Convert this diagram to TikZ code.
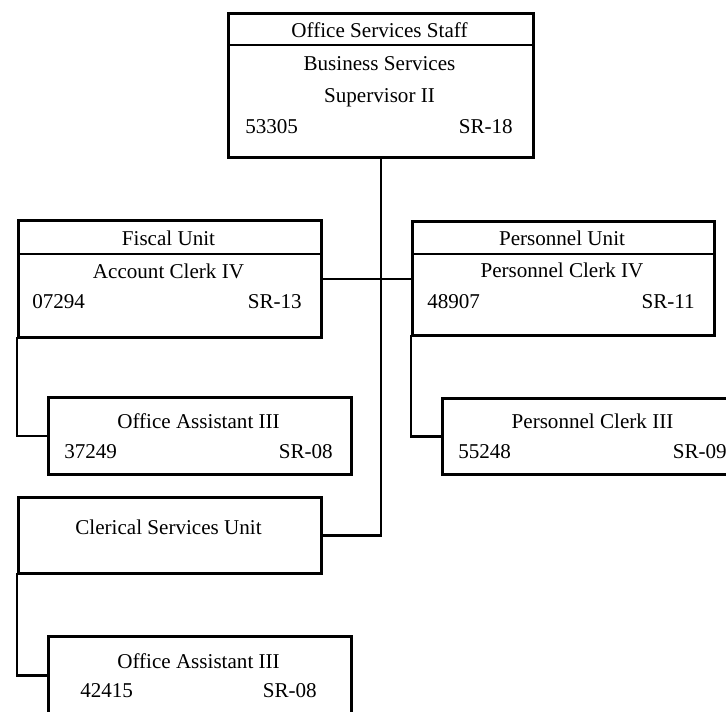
\documentclass[tikz,border=0pt]{standalone}
\usepackage{fontspec}
\setmainfont{Liberation Serif}
\usetikzlibrary{calc, positioning}
\newcommand{\pxu}{0.025cm}

\begin{document}
\begin{tikzpicture}[x=\pxu, y=-\pxu,
        box/.style={rectangle, draw, line width=2.8*\pxu, anchor=north west, inner sep=0pt, minimum width=303*\pxu},
        conn/.style={line width=2.8*\pxu, line cap=rect},
        divider/.style={line width=2.8*\pxu},
        txt/.style={inner sep=0pt, font=\fontsize{15pt}{18pt}\selectfont}]
        \useasboundingbox (0,0) rectangle (726,712);
        \clip (0,0) rectangle (726,712);

        % boxes
        \node (staff) [box, minimum width=305*\pxu, minimum height=144*\pxu] at (227,12) {};
        \node (fiscal) [box, minimum height=117*\pxu] at (17,219) {};
        \node (personnel) [box, minimum width=302*\pxu, minimum height=114*\pxu] at (411,220) {};
        \node (oaFiscal) [box, minimum height=77*\pxu] at (47,396) {};
        \node (clerkPers) [box, minimum height=76*\pxu] at (441,397) {};
        \node (clerical) [box, minimum height=76*\pxu] at (17,496) {};
        \node (oaClerical) [box, minimum height=78*\pxu] at (47,635) {};

        % header lines
        \draw[divider] ($(staff.north west)+(0,33)$) -- ($(staff.north east)+(0,33)$);
        \draw[divider] ($(fiscal.north west)+(0,35)$) -- ($(fiscal.north east)+(0,35)$);
        \draw[divider] ($(personnel.north west)+(0,34)$) -- ($(personnel.north east)+(0,34)$);

        % texts
        \node (staffHead) [txt, anchor=base] at (379.5,37) {Office Services Staff};
        \node (staffT1) [txt, anchor=base] at (379.5,70) {Business Services};
        \node (staffT2) [txt, anchor=base] at (379.5,102) {Supervisor II};
        \node (staffNo) [txt, anchor=base west] at (245,133) {53305};
        \node (staffSR) [txt, anchor=base east] at (513,133) {SR-18};

        \node (fiscalHead) [txt, anchor=base] at (168.5,245) {Fiscal Unit};
        \node (fiscalT) [txt, anchor=base] at (168.5,278) {Account Clerk IV};
        \node (fiscalNo) [txt, anchor=base west] at (32,308) {07294};
        \node (fiscalSR) [txt, anchor=base east] at (302,308) {SR-13};

        \node (persHead) [txt, anchor=base] at (562,245) {Personnel Unit};
        \node (persT) [txt, anchor=base] at (562,277) {Personnel Clerk IV};
        \node (persNo) [txt, anchor=base west] at (427,308) {48907};
        \node (persSR) [txt, anchor=base east] at (695,308) {SR-11};

        \node (oaFiscalT) [txt, anchor=base] at (198.5,428) {Office Assistant III};
        \node (oaFiscalNo) [txt, anchor=base west] at (64,458) {37249};
        \node (oaFiscalSR) [txt, anchor=base east] at (333,458) {SR-08};

        \node (clerkPersT) [txt, anchor=base] at (592.5,428) {Personnel Clerk III};
        \node (clerkPersNo) [txt, anchor=base west] at (458,458) {55248};
        \node (clerkPersSR) [txt, anchor=base east] at (727,458) {SR-09};

        \node (clericalT) [txt, anchor=base] at (168.5,534) {Clerical Services Unit};

        \node (oaClericalT) [txt, anchor=base] at (198.5,668) {Office Assistant III};
        \node (oaClericalNo) [txt, anchor=base west] at (80,697) {42415};
        \node (oaClericalSR) [txt, anchor=base east] at (317,697) {SR-08};

        % connectors
        \draw[conn] (staff.south) -- (staff.south |- clerical.east) -- (clerical.east);
        \draw[conn] (fiscal.east) -- (fiscal.east -| personnel.west);
        \draw[conn] (fiscal.south west) |- (oaFiscal.west);
        \draw[conn] (personnel.south west) |- (clerkPers.west);
        \draw[conn] (clerical.south west) |- (oaClerical.west);
    \end{tikzpicture}
\end{document}
